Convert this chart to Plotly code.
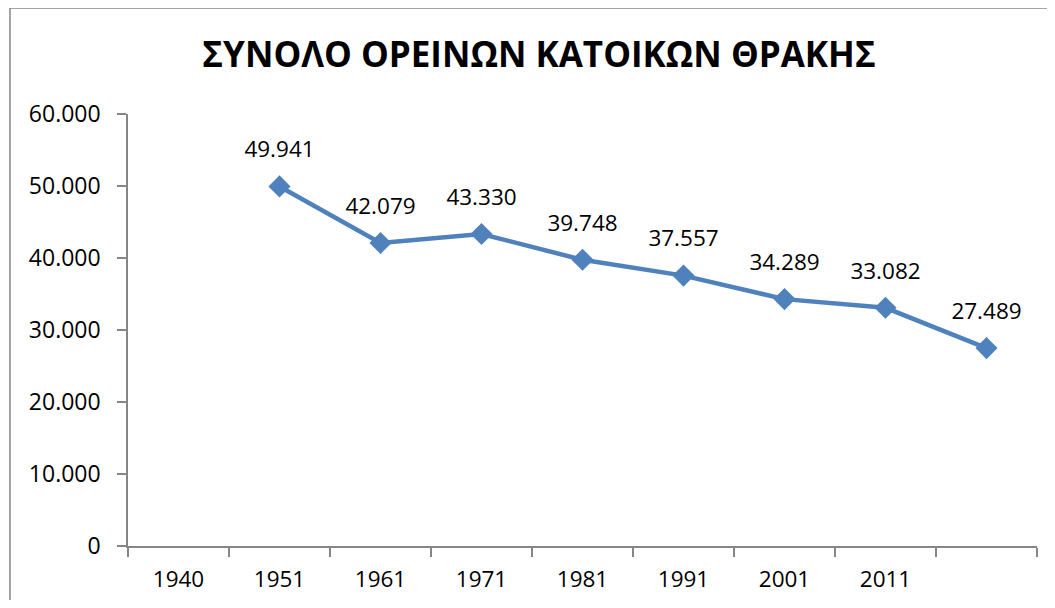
import plotly.graph_objects as go

categories = ["1940", "1951", "1961", "1971", "1981", "1991", "2001", "2011", " "]
values = [None, 49941, 42079, 43330, 39748, 37557, 34289, 33082, 27489]
y_ticks = [0, 10000, 20000, 30000, 40000, 50000, 60000]
title_text = "ΣΥΝΟΛΟ ΟΡΕΙΝΩΝ ΚΑΤΟΙΚΩΝ ΘΡΑΚΗΣ"

# page body has an 8px margin, so the figure is drawn offset by (8, 8)
OFF = 8
W, H = 1055 - 2 * OFF, 608 - 2 * OFF
ML, MT = 128 - OFF, 114 - OFF
MR = W - (1037 - OFF)
MB = H - (546 - OFF)
PW, PH = W - ML - MR, H - MT - MB

FONT = "Open Sans"
AXC = "#868686"
BLUE = "#4F81BD"

fig = go.Figure()
fig.add_trace(go.Scatter(
    x=categories, y=values, mode="lines+markers",
    line=dict(color=BLUE, width=4.5),
    marker=dict(symbol="diamond", size=17, color=BLUE),
    connectgaps=False, cliponaxis=False, hoverinfo="skip",
))
# data labels (invisible larger markers push text further above points)
fig.add_trace(go.Scatter(
    x=categories, y=values, mode="markers+text",
    marker=dict(size=36, color="rgba(0,0,0,0)"),
    texttemplate="%{y:,d}", textposition="top center",
    textfont=dict(family=FONT, size=22.5, color="#000000"),
    cliponaxis=False, hoverinfo="skip",
))

# outer chart border (left and top edges visible)
bx = (10 - OFF - ML) / PW
by = 1 + (MT - (8 - OFF)) / PH
fig.add_shape(type="line", xref="paper", yref="paper", x0=bx, x1=bx, y0=-0.5, y1=by,
              line=dict(color=AXC, width=1.5))
fig.add_shape(type="line", xref="paper", yref="paper", x0=bx, x1=1.3, y0=by, y1=by,
              line=dict(color=AXC, width=1.5))

fig.update_layout(
    width=W, height=H,
    margin=dict(l=ML, r=MR, t=MT, b=MB, autoexpand=False),
    paper_bgcolor="white", plot_bgcolor="white",
    separators=",.",
    showlegend=False,
    title=dict(text="<b>" + title_text + "</b>", x=(539 - OFF) / W, xanchor="center",
               y=1 - (55 - OFF) / H, yanchor="middle",
               font=dict(family=FONT, size=35, color="#000000")),
    xaxis=dict(type="category", categoryorder="array", categoryarray=categories,
               range=[-0.5, len(categories) - 0.5],
               tickson="boundaries", ticks="outside", ticklen=9, tickwidth=1.5,
               tickcolor=AXC, showline=True, linecolor=AXC, linewidth=1.5,
               showgrid=False, zeroline=False, ticklabelstandoff=12,
               tickfont=dict(family=FONT, size=22.5, color="#000000")),
    yaxis=dict(range=[0, 60000], tickvals=y_ticks, tickformat=",d",
               ticks="outside", ticklen=9, tickwidth=1.5, tickcolor=AXC,
               showline=True, linecolor=AXC, linewidth=1.5,
               showgrid=False, zeroline=False, ticklabelstandoff=12,
               tickfont=dict(family=FONT, size=23, color="#000000")),
)

fig.write_html("out.html")
